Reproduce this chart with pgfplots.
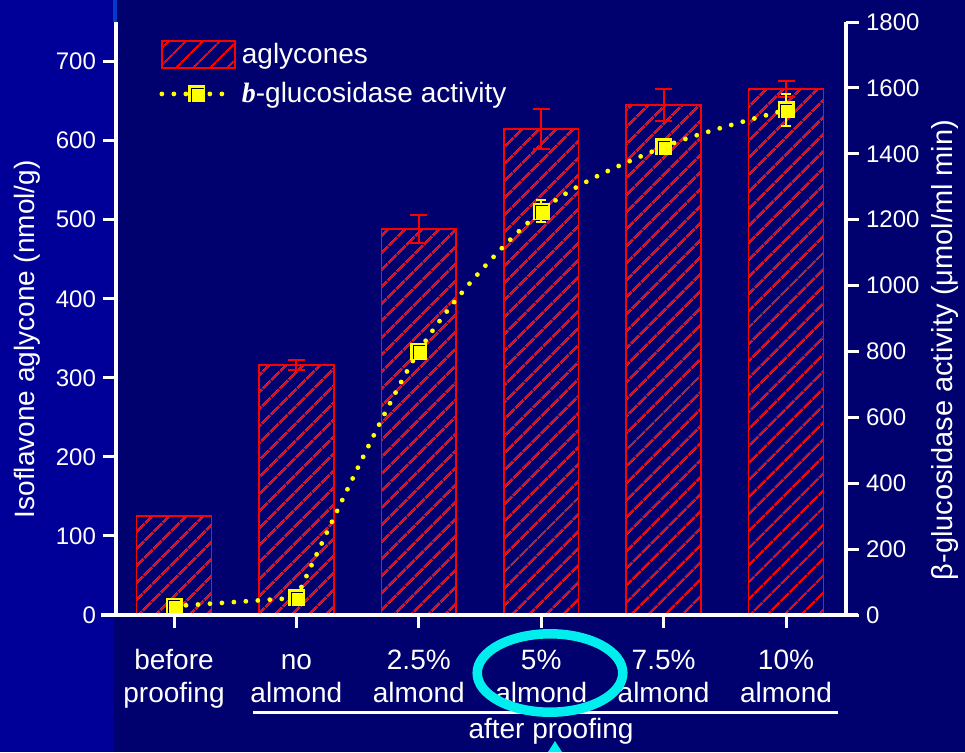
\documentclass[border=0pt]{standalone}
\usepackage{fontspec}
\setmainfont{Liberation Sans}
\newfontfamily\timesf{Liberation Serif}
\usepackage{pgfplots}
\pgfplotsset{compat=1.18}
\usetikzlibrary{patterns.meta}
\definecolor{bgnavy}{RGB}{0,0,110}
\definecolor{bgleft}{RGB}{0,0,152}
\definecolor{topline}{RGB}{0,60,200}
\definecolor{barred}{RGB}{255,0,0}
\definecolor{ylw}{RGB}{255,255,0}
\definecolor{ring}{RGB}{0,238,238}

\pgfdeclareplotmark{ysq}{%
  \pgfpathrectangle{\pgfqpoint{-\pgfplotmarksize}{-\pgfplotmarksize}}{\pgfqpoint{2\pgfplotmarksize}{2\pgfplotmarksize}}%
  \pgfusepathqfillstroke
  \begin{pgfscope}%
  \pgfsetstrokecolor{black}\pgfsetlinewidth{0.5pt}%
  \pgfpathmoveto{\pgfpoint{-0.66\pgfplotmarksize}{-\pgfplotmarksize}}%
  \pgfpathlineto{\pgfpoint{-0.66\pgfplotmarksize}{0.66\pgfplotmarksize}}%
  \pgfpathlineto{\pgfpoint{0.8\pgfplotmarksize}{0.66\pgfplotmarksize}}%
  \pgfusepathqstroke
  \end{pgfscope}%
}

\pgfplotstableread{
x y err
0 125 0
1 316 6
2 488 18
3 615 25
4 645 20
5 665 10
}\aglytab

\pgfplotstableread{
x y err
0 27 5
1 52 10
2 801 15
3 1226 33
4 1421 15
5 1533 48
}\glutab

\pgfplotsset{
  mylinelegend/.style={legend image code/.code={\draw[##1, mark repeat=2, mark phase=2] plot coordinates {(0pt,0pt) (17.5pt,0pt) (35pt,0pt)};}},
  mybarlegend/.style={legend image code/.code={\draw[draw=barred, line width=1pt, pattern={Lines[angle=45,distance=6.5pt,line width=1pt]}, pattern color=barred] (0pt,-6.5pt) rectangle (36.5pt,7pt);}},
  dotline/.style={ylw, line width=2.4pt, dash pattern=on 0pt off 6pt, line cap=round},
}

\begin{document}
\begin{tikzpicture}
% 1 px of the reference = 0.5pt ; axis box lower-left corner at (0,0)
\fill[bgnavy] (-58pt,-68.5pt) rectangle (424.5pt,307.5pt);
\fill[bgleft] (-58pt,-68.5pt) rectangle (-1pt,307.5pt);
\fill[topline] (-1.5pt,296.5pt) rectangle (0.5pt,307.5pt);
\useasboundingbox (-58pt,-68.5pt) rectangle (424.5pt,307.5pt);

\pgfplotsset{
  every axis/.append style={
    at={(0,0)}, anchor=south west, scale only axis,
    width=365pt, height=296.5pt,
    xmin=-0.474, xmax=5.49,
    axis line style={white, line width=2pt, -},
    tick style={white, line width=1.5pt},
    major tick length=6.5pt,
    tick align=outside,
    tick label style={font=\fontsize{12}{14}\selectfont, text=white},
    /pgf/number format/assume math mode=true,
    /pgf/number format/1000 sep={},
  }
}

\begin{axis}[
  ymin=0, ymax=750,
  axis y line*=left, axis x line*=bottom,
  xtick={0,1,2,3,4,5},
  xticklabels={{\strut before\\proofing},{\strut no\\almond},{\strut 2.5\%\\almond},{\strut 5\%\\almond},{\strut 7.5\%\\almond},{\strut 10\%\\almond}},
  xticklabel style={align=center, font=\fontsize{14}{16.5}\selectfont, text=white, yshift=-5.8pt},
  ytick={0,100,...,700},
  ylabel={Isoflavone aglycone (nmol/g)},
  ylabel style={at={(axis description cs:-0.122,0.465)}, anchor=center, font=\fontsize{14}{16}\selectfont, text=white},
  legend style={draw=none, fill=none, at={(0.059,0.972)}, anchor=north west,
    font=\fontsize{14}{16}\selectfont, text=white, inner sep=0pt, row sep=4pt,
    /tikz/every odd column/.append style={column sep=1pt}},
  legend cell align=left,
]
\addplot[ybar, bar width=0.61, draw=barred, line width=0.8pt,
  pattern={Lines[angle=45,distance=6.5pt,line width=1pt]}, pattern color=barred,
  mybarlegend,
  error bars/.cd, y dir=both, y explicit,
  error bar style={barred, line width=1pt},
  error mark options={barred, line width=1pt, mark size=4.25pt, rotate=90}]
  table[x=x, y=y, y error=err] {\aglytab};
\addlegendentry{aglycones}
\addlegendimage{dotline,
  mark=ysq, mark size=4pt, mark options={solid, fill=ylw, draw=ylw, line width=0.5pt},
  mylinelegend}
\addlegendentry{{\timesf\bfseries\itshape b}-glucosidase activity}
\end{axis}

\begin{axis}[
  ymin=0, ymax=1800,
  axis y line*=right, axis x line=none,
  ytick={0,200,...,1800},
  ylabel={β-glucosidase activity (μmol/ml min)},
  ylabel style={at={(axis description cs:1.136,0.447)}, anchor=center, font=\fontsize{14.5}{16}\selectfont, text=white},
]
% straight first segment, smooth remainder, then marks with error bars
\addplot[dotline, sharp plot, restrict x to domain=0:1] table[x=x, y=y] {\glutab};
\addplot[dotline, smooth, tension=0.5, restrict x to domain=1:5] table[x=x, y=y] {\glutab};
\addplot[only marks, ylw,
  mark=ysq, mark size=4pt, mark options={solid, fill=ylw, draw=ylw, line width=0.5pt},
  error bars/.cd, y dir=both, y explicit,
  error bar style={ylw, line width=1pt, solid},
  error mark options={ylw, line width=1pt, mark size=2.5pt, rotate=90, solid}]
  table[x=x, y=y, y error=err] {\glutab};
\end{axis}

% decorations
\draw[white, line width=2pt] (-7.5pt,0) -- (371pt,0);
\draw[white, line width=1.5pt] (68.5pt,-48.5pt) -- (361pt,-48.5pt);
\node[anchor=base, text=white, font=\fontsize{14}{16}\selectfont, inner sep=0pt] at (217.5pt,-61.5pt) {after proofing};
\draw[ring, line width=4.75pt] (217pt,-29pt) ellipse [x radius=36.4pt, y radius=19.6pt];
\fill[ring] (219.5pt,-63pt) -- (223pt,-68.5pt) -- (216pt,-68.5pt) -- cycle;
\end{tikzpicture}
\end{document}
